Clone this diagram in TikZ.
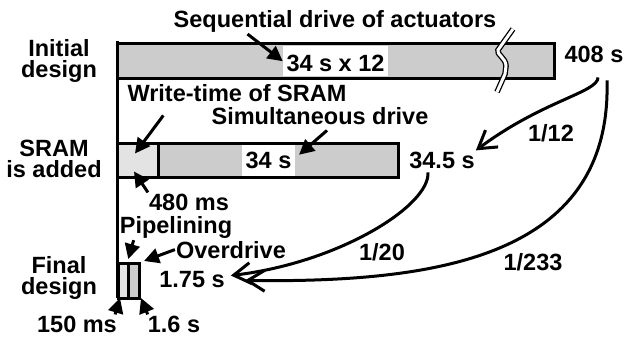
\documentclass[tikz,border=0pt]{standalone}
\usepackage{fontspec}
\setmainfont{Liberation Sans}
\usepackage{xcolor}
\colorlet{colorBar}{black!20}
\colorlet{colorWrite}{black!11}
\usepackage{tikz}
\usetikzlibrary{arrows.meta, positioning}
\tikzset{lbl/.style={font=\fontsize{23.5}{21}\selectfont\bfseries, inner sep=1pt, anchor=base}}
\tikzset{rowlbl/.style={lbl, anchor=center, align=center}}
\tikzset{bar/.style={draw, line width=3pt, fill=colorBar, inner sep=0pt, outer sep=0pt, minimum height=34pt}}
\tikzset{callout/.style={line width=3pt, -{Triangle[length=15pt,width=15pt]}}}
\tikzset{ratio/.style={line width=3pt, -{Straight Barb[length=17pt,width=21pt]}}}

\begin{document}
\begin{tikzpicture}[x=1pt, y=-1pt]
\useasboundingbox (0,0) rectangle (628,339);
\node[bar, anchor=west, minimum width=437pt, minimum height=35pt] (bInit) at (117.5,61) {};
\node[bar, anchor=west, minimum width=41pt, fill=colorWrite] (bSramW) at (117.5,160.5) {};
\node[bar, anchor=west, minimum width=240pt] (bSramD) at (bSramW.east) {};
\node[bar, anchor=north west, minimum width=10.5pt, minimum height=35pt, fill=colorWrite] (bFinP) at (118,263) {};
\node[bar, anchor=north west, minimum width=10.5pt, minimum height=35pt] (bFinO) at (bFinP.north east) {};
\coordinate (axisTop) at (117.5,41.5);
\coordinate (axisBot) at (117.5,298);
\draw[line width=3pt] (axisTop) -- (axisBot);
\draw[line width=1.3pt, double=white, double distance=3pt] (513,29) -- (498,50) .. controls (496,54) and (506,58) .. (506,66) .. controls (506,70) .. (505,74) -- (497,92);
\node[lbl, fill=white, inner xsep=3.5pt, inner ysep=0.5pt, text height=25pt, text depth=4.5pt] (tBox34) at (335.5,71.5) {34 s x 12};
\node[lbl, fill=white, inner xsep=3.5pt, inner ysep=0.5pt, text height=22pt, text depth=7.5pt] (tBox34s) at (268.5,168) {34 s};
\node[lbl] (tSeq) at (335,28) {Sequential drive of actuators};
\node[rowlbl] (tInit) at (59,61.4) {Initial\\design};
\node[lbl] (t408) at (594,63) {408 s};
\node[lbl] (tWrite) at (237,102) {Write-time of SRAM};
\node[lbl] (tSim) at (320,125) {Simultaneous drive};
\node[rowlbl] (tSram) at (54,159.1) {SRAM\\is added};
\node[lbl] (t345) at (442,168) {34.5 s};
\node[lbl] (t480) at (189,210) {480 ms};
\node[lbl] (tPipe) at (176,233) {Pipelining};
\node[lbl] (tOver) at (231,258) {Overdrive};
\node[lbl] (t175) at (192,287) {1.75 s};
\node[rowlbl] (tFin) at (59,277.8) {Final\\design};
\node[lbl] (t150) at (77,332) {150 ms};
\node[lbl] (t16) at (174,332) {1.6 s};
\node[lbl] (r12) at (551,142) {1/12};
\node[lbl] (r20) at (382,260) {1/20};
\node[lbl] (r233) at (533,270) {1/233};
\draw[callout] ([xshift=75pt]tSeq.south west) -- (tBox34.west);
\draw[callout] ([xshift=37pt,yshift=-12pt]tWrite.south west) -- ([xshift=-3pt,yshift=7pt]bSramW.center);
\draw[callout] ([xshift=7pt,yshift=-4pt]tSim.south) -- ([xshift=4pt,yshift=6pt]tBox34s.east);
\draw[callout] (t480.north west) -- ([xshift=-4pt,yshift=6pt]bSramW.south);
\draw[callout] ([xshift=15pt,yshift=-1pt]tPipe.south west) -- ([xshift=5pt,yshift=4pt]bFinP.north);
\draw[callout] (tOver.west) -- ([xshift=5pt,yshift=2pt]bFinO.north east);
\draw[callout] ([xshift=-3pt]t150.north east) -- ([xshift=2pt]bFinP.south west);
\draw[callout] ([xshift=1pt]t16.north west) -- ([xshift=2pt]bFinO.south east);
\draw[ratio] ([xshift=4pt,yshift=-13pt]t408.south) .. controls +(0,15) and +(67,-50) .. (t345.north east);
\draw[ratio] ([xshift=13pt,yshift=-16pt]t408.south) .. controls +(5,180) and +(185,2) .. ([xshift=19pt,yshift=-1.5pt]t175.east);
\draw[ratio] ([xshift=-14pt,yshift=-3pt]t345.south) .. controls +(2,33) and +(109,-13) .. ([xshift=5pt,yshift=3.5pt]t175.east);
\end{tikzpicture}
\end{document}
